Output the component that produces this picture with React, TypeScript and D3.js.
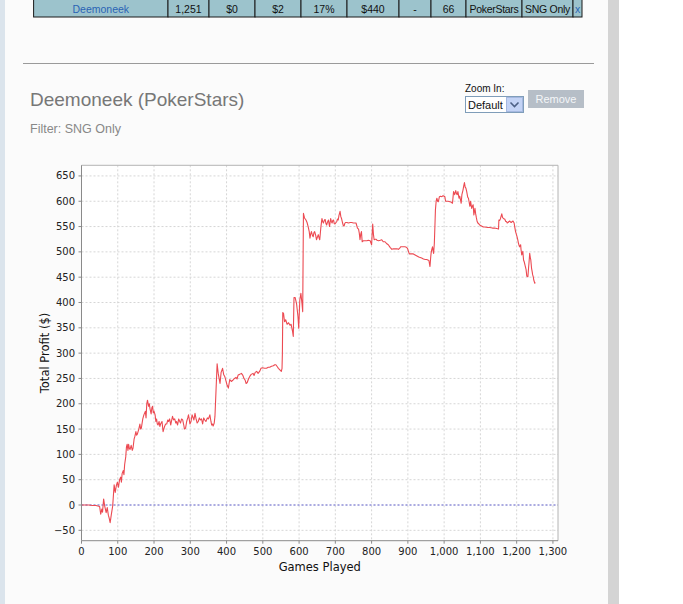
import React from "react";
import * as d3 from "d3";

// ---- Data ----
const games = [
  0, 10, 20, 30, 40, 45, 50, 53, 56, 58, 61, 64, 68, 71, 74, 76, 79, 82, 86, 90,
  93, 96, 99, 102, 105, 108, 110, 112, 115, 117, 119, 122, 124, 126, 128, 130, 132, 134, 137, 140,
  142, 145, 147, 150, 152, 154, 158, 161, 163, 165, 169, 172, 176, 178, 180, 182, 185, 187, 189, 192,
  194, 196, 198, 200, 203, 205, 207, 209, 211, 214, 216, 218, 222, 225, 227, 229, 232, 235, 238, 240,
  243, 246, 248, 251, 254, 257, 260, 262, 265, 268, 271, 273, 276, 279, 282, 284, 287, 290, 293, 295,
  297, 299, 302, 305, 308, 310, 313, 316, 319, 322, 325, 328, 331, 334, 337, 340, 343, 347, 350, 354,
  357, 359, 361, 363, 366, 368, 371, 374, 377, 380, 382, 385, 389, 392, 395, 398, 401, 405, 407, 409,
  413, 418, 422, 426, 429, 432, 436, 441, 445, 448, 451, 454, 457, 461, 464, 468, 473, 476, 479, 483,
  487, 492, 495, 499, 505, 510, 515, 519, 524, 529, 533, 536, 540, 543, 547, 551, 553, 554, 555, 557,
  560, 563, 567, 571, 575, 578, 582, 584, 586, 589, 593, 597, 599, 602, 605, 608, 610, 612, 615, 619,
  622, 625, 628, 630, 632, 634, 637, 639, 641, 643, 646, 648, 651, 653, 655, 657, 660, 663, 665, 667,
  670, 672, 674, 676, 678, 681, 684, 687, 689, 691, 693, 695, 697, 699, 702, 704, 706, 708, 710, 713,
  715, 717, 720, 722, 724, 726, 728, 732, 736, 741, 745, 750, 757, 761, 764, 766, 768, 770, 772, 774,
  777, 782, 787, 791, 796, 798, 800, 803, 805, 807, 810, 812, 815, 819, 824, 828, 832, 837, 842, 846,
  851, 856, 860, 865, 870, 874, 878, 880, 886, 892, 896, 899, 902, 904, 910, 915, 920, 925, 930, 934,
  938, 943, 948, 952, 955, 958, 961, 963, 964, 966, 968, 970, 971, 973, 975, 976, 978, 980, 982, 984,
  987, 990, 994, 997, 1000, 1002, 1004, 1008, 1011, 1016, 1020, 1023, 1026, 1029, 1032, 1034, 1036, 1038, 1041, 1043,
  1045, 1047, 1049, 1052, 1054, 1056, 1058, 1060, 1062, 1063, 1065, 1067, 1069, 1071, 1073, 1076, 1078, 1080, 1082, 1085,
  1087, 1089, 1091, 1093, 1096, 1098, 1103, 1108, 1112, 1120, 1126, 1133, 1139, 1145, 1150, 1151, 1153, 1155, 1157, 1159,
  1161, 1162, 1165, 1167, 1170, 1172, 1174, 1176, 1179, 1181, 1183, 1185, 1188, 1190, 1193, 1195, 1197, 1199, 1201, 1203,
  1205, 1207, 1208, 1211, 1212, 1214, 1217, 1219, 1221, 1223, 1225, 1226, 1228, 1231, 1233, 1234, 1236, 1238, 1239, 1241,
  1243, 1244, 1246, 1247, 1250, 1251,
];

const profit = [
  0, 0, 0, -1, -1, -2, -3, -18, -8, -14, 12, -2, -15, -5, -20, -25, -35, -20, -2, 40,
  25, 38, 45, 35, 50, 55, 45, 62, 68, 60, 80, 95, 115, 120, 108, 120, 112, 110, 118, 108,
  112, 130, 135, 145, 138, 140, 150, 160, 150, 152, 170, 178, 185, 172, 200, 207, 195, 200, 190, 180,
  192, 195, 182, 185, 178, 165, 170, 160, 158, 165, 155, 160, 165, 145, 150, 155, 160, 160, 168, 165,
  170, 158, 165, 175, 168, 170, 162, 165, 158, 170, 165, 162, 170, 168, 158, 150, 152, 165, 172, 178,
  170, 160, 165, 178, 172, 168, 181, 170, 162, 165, 172, 168, 170, 160, 172, 168, 165, 172, 170, 178,
  165, 158, 160, 156, 162, 175, 227, 279, 260, 248, 240, 262, 270, 258, 254, 246, 238, 231, 240, 248,
  244, 247, 250, 252, 249, 257, 258, 260, 256, 250, 247, 240, 242, 250, 254, 258, 260, 256, 262, 264,
  260, 265, 270, 271, 270, 270, 272, 272, 274, 275, 277, 277, 273, 270, 267, 264, 270, 300, 380, 379,
  362, 366, 357, 360, 355, 357, 343, 333, 410, 410, 398, 372, 349, 405, 418, 398, 382, 576, 567, 563,
  558, 550, 540, 527, 535, 540, 532, 530, 538, 540, 532, 524, 530, 534, 528, 524, 548, 566, 560, 557,
  563, 564, 556, 553, 558, 563, 550, 566, 560, 557, 562, 563, 556, 555, 558, 560, 565, 563, 572, 580,
  570, 566, 557, 552, 551, 556, 558, 558, 557, 558, 558, 557, 557, 547, 545, 537, 524, 535, 540, 520,
  522, 522, 522, 523, 522, 518, 514, 555, 535, 524, 525, 525, 523, 522, 523, 524, 520, 520, 516, 514,
  509, 505, 506, 506, 506, 505, 508, 510, 510, 510, 509, 507, 500, 496, 496, 496, 494, 492, 490, 489,
  488, 486, 485, 485, 484, 483, 471, 490, 497, 505, 510, 500, 497, 517, 560, 583, 600, 606, 600, 599,
  609, 610, 609, 611, 610, 609, 600, 600, 600, 599, 598, 596, 619, 613, 621, 615, 613, 619, 606, 610,
  603, 596, 613, 622, 630, 637, 628, 626, 620, 616, 608, 606, 598, 590, 600, 586, 590, 593, 573, 586,
  575, 567, 560, 557, 555, 553, 551, 549, 549, 548, 548, 547, 547, 546, 545, 563, 562, 565, 570, 575,
  568, 567, 565, 565, 560, 560, 557, 558, 560, 561, 559, 558, 560, 561, 557, 548, 540, 535, 530, 524,
  517, 512, 510, 514, 505, 494, 501, 484, 480, 474, 468, 465, 452, 451, 470, 478, 497, 487, 484, 468,
  460, 455, 450, 445, 438, 440,
];

const yTicks = [-50, 0, 50, 100, 150, 200, 250, 300, 350, 400, 450, 500, 550, 600, 650];
const xTicks = [0, 100, 200, 300, 400, 500, 600, 700, 800, 900, 1000, 1100, 1200, 1300];

const tableCells = ["Deemoneek", "1,251", "$0", "$2", "17%", "$440", "-", "66", "PokerStars", "SNG Only", "x"];
const tableLinkCells = [0, 10];

const chartTitle = "Deemoneek (PokerStars)";
const filterLabel = "Filter: SNG Only";
const xTitle = "Games Played";
const yTitle = "Total Profit ($)";

// ---- Layout ----
const W = 683;
const H = 604;
const plot = { left: 81.5, right: 558, top: 165.3, bottom: 540.7 };
const tableEdges = [33.6, 168, 209, 255, 301, 347, 399, 431, 466, 522, 573, 582];

export default function App() {
  const x = d3.scaleLinear().domain([0, 1314]).range([plot.left, plot.right]);
  const y = d3.scaleLinear().domain([-70.5, 671]).range([plot.bottom, plot.top]);
  const pts: [number, number][] = games.map((g, i) => [g, profit[i]]);
  const line = d3
    .line<[number, number]>()
    .x((d) => x(d[0]))
    .y((d) => y(d[1]));
  const fmt = d3.format(",");
  const axisFont = "'DejaVu Sans', sans-serif";
  const uiFont = "'Liberation Sans', Arial, sans-serif";

  return (
    <svg
      width={W}
      height={H}
      style={{ position: "absolute", left: 0, top: 0, display: "block" }}
      xmlns="http://www.w3.org/2000/svg"
    >
      {/* page background */}
      <rect x={0} y={0} width={W} height={H} fill="#ffffff" />
      <rect x={0} y={0} width={608} height={H} fill="#fbfbfb" />
      <rect x={0} y={0} width={5} height={H} fill="#dbe4ec" />
      <rect x={608} y={0} width={11} height={H} fill="#d4d4d4" />

      {/* summary table row */}
      <g fontFamily={uiFont} fontSize={10.5}>
        {tableCells.map((t, i) => {
          const x0 = tableEdges[i];
          const x1 = tableEdges[i + 1];
          return (
            <g key={i}>
              <rect x={x0} y={-1} width={x1 - x0} height={18} fill="#9cc3cc" stroke="#1a1a1a" strokeWidth={1} />
              <text
                x={(x0 + x1) / 2}
                y={12.5}
                textAnchor="middle"
                letterSpacing={i === 8 || i === 9 ? -0.3 : 0}
                fill={tableLinkCells.includes(i) ? "#2a63b5" : "#111"}
              >
                {t}
              </text>
            </g>
          );
        })}
      </g>

      {/* separator rule */}
      <line x1={23} x2={594} y1={63.5} y2={63.5} stroke="#9a9a9a" strokeWidth={1} />

      {/* title and filter */}
      <text x={30} y={106} fontFamily={uiFont} fontSize={19} fill="#777">
        {chartTitle}
      </text>
      <text x={30} y={133} fontFamily={uiFont} fontSize={12.5} fill="#888">
        {filterLabel}
      </text>

      {/* zoom control */}
      <text x={465} y={92} fontFamily={uiFont} fontSize={10} fill="#111">
        Zoom In:
      </text>
      <rect x={465.5} y={96.5} width={58} height={16} fill="#fff" stroke="#7f9db9" />
      <text x={468} y={109} fontFamily={uiFont} fontSize={11} fill="#111">
        Default
      </text>
      <rect x={506.5} y={97.5} width={16} height={14} fill="#c3d3f5" stroke="#a5b8e0" />
      <path d="M510.5 102.5 L514.5 106.5 L518.5 102.5" fill="none" stroke="#4d6185" strokeWidth={1.6} />
      <rect x={528} y={90} width={56} height={18} fill="#b6bec7" />
      <text x={556} y={103} textAnchor="middle" fontFamily={uiFont} fontSize={11} fill="#f4f6f8">
        Remove
      </text>

      {/* plot background */}
      <rect x={plot.left} y={plot.top} width={plot.right - plot.left} height={plot.bottom - plot.top} fill="#fff" />

      {/* grid lines */}
      <g stroke="#d6d6d6" strokeWidth={1} strokeDasharray="2,2">
        {xTicks.map((t) => (
          <line key={"gx" + t} x1={x(t)} x2={x(t)} y1={plot.top} y2={plot.bottom} />
        ))}
        {yTicks.map((t) => (
          <line key={"gy" + t} x1={plot.left} x2={plot.right} y1={y(t)} y2={y(t)} />
        ))}
      </g>

      {/* zero marker */}
      <line
        x1={plot.left}
        x2={plot.right}
        y1={y(0)}
        y2={y(0)}
        stroke="#6a6ad8"
        strokeWidth={1}
        strokeDasharray="2,2"
      />

      {/* plot border */}
      <line x1={plot.left} x2={plot.right} y1={plot.top} y2={plot.top} stroke="#b4b4b4" />
      <line x1={plot.right} x2={plot.right} y1={plot.top} y2={plot.bottom} stroke="#b4b4b4" />

      {/* data line */}
      <path d={line(pts) || ""} fill="none" stroke="#ec4a52" strokeWidth={1.1} strokeLinejoin="round" />

      {/* axes */}
      <line x1={plot.left} x2={plot.left} y1={plot.top} y2={plot.bottom} stroke="#8a8a8a" />
      <line x1={plot.left} x2={plot.right} y1={plot.bottom} y2={plot.bottom} stroke="#8a8a8a" />

      <g fontFamily={axisFont} fontSize={10} fill="#222">
        {yTicks.map((t) => (
          <g key={"ty" + t}>
            <line x1={plot.left - 3} x2={plot.left} y1={y(t)} y2={y(t)} stroke="#8a8a8a" />
            <text x={75} y={y(t) + 3.5} textAnchor="end">
              {fmt(t)}
            </text>
          </g>
        ))}
        {xTicks.map((t) => (
          <g key={"tx" + t}>
            <line x1={x(t)} x2={x(t)} y1={plot.bottom} y2={plot.bottom + 3} stroke="#8a8a8a" />
            <text x={x(t)} y={555} textAnchor="middle">
              {fmt(t)}
            </text>
          </g>
        ))}
      </g>

      {/* axis titles */}
      <text
        x={(plot.left + plot.right) / 2}
        y={571}
        textAnchor="middle"
        fontFamily={axisFont}
        fontSize={11.5}
        fill="#111"
      >
        {xTitle}
      </text>
      <text
        transform={`translate(49, ${(plot.top + plot.bottom) / 2}) rotate(-90)`}
        textAnchor="middle"
        fontFamily={axisFont}
        fontSize={11.5}
        fill="#111"
      >
        {yTitle}
      </text>
    </svg>
  );
}
